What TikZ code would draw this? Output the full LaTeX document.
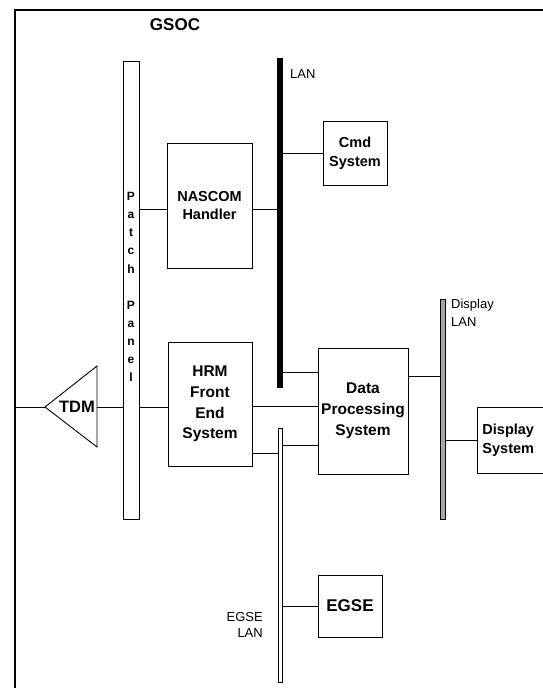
\documentclass[tikz,border=0pt]{standalone}
\usepackage{fontspec}
\setmainfont{Liberation Sans}
\usetikzlibrary{positioning}
\definecolor{lanGray}{HTML}{A6A6A6}

\begin{document}
\begin{tikzpicture}[
    x=1pt, y=-1pt,
    unit/.style={draw, line width=0.9pt, fill=white, inner sep=0pt, align=center,
      font=\bfseries\fontsize{14.5}{18.5}\selectfont},
    bigunit/.style={unit, font=\bfseries\fontsize{15.5}{20.8}\selectfont},
    lanbar/.style={draw, line width=0.9pt, inner sep=0pt, minimum width=#1},
    lanlabel/.style={inner sep=0pt, font=\fontsize{13}{17.5}\selectfont},
    link/.style={line width=0.9pt}
  ]
  \useasboundingbox (0,0) rectangle (543,688);
  \clip (0,0) rectangle (543,688);

  % GSOC frame
  \draw[line width=2.2pt] (15,688) -- (15,10) -- (543,10);
  \node[font=\bfseries\fontsize{17}{20}\selectfont] (gsoc) at (175,25) {GSOC};
  \coordinate (frameL) at (15,407);

  % patch panel
  \node[lanbar=16pt, fill=white, minimum height=458pt] (panel) at (131,290) {};
  \node[inner sep=0pt, align=center, font=\bfseries\fontsize{12}{18.1}\selectfont] (panelText) at (131,287)
    {P\\a\\t\\c\\h\\\mbox{}\\P\\a\\n\\e\\l};

  % TDM
  \draw[link, fill=white] (97,366) -- (45,407) -- (97,447) -- cycle;
  \coordinate (tdmL) at (45,407);
  \coordinate (tdmR) at (97,407);
  \node[inner sep=0pt, font=\bfseries\fontsize{16.5}{20}\selectfont] (tdm) at (77,407) {TDM};

  % LANs
  \node[lanbar=4.5pt, fill=black, minimum height=329pt] (lan) at (280,222.5) {};
  \node[lanlabel, anchor=west] (lanText) at (290,74) {LAN};
  \node[lanbar=5pt, fill=lanGray, minimum height=220pt] (displan) at (442.5,409) {};
  \node[lanlabel, anchor=west, align=left, font=\fontsize{13}{18.3}\selectfont] (displanText) at (451,312.5) {Display\\LAN};
  \node[lanbar=4pt, fill=white, minimum height=254pt] (egselan) at (280,555) {};
  \node[lanlabel, anchor=east, align=right, font=\fontsize{13}{16.7}\selectfont] (egselanText) at (263,625) {EGSE\\LAN};

  % systems
  \node[unit, minimum width=85pt, minimum height=125pt] (nascom) at (209.5,205.5) {NASCOM\\Handler};
  \node[unit, minimum width=64pt, minimum height=64pt] (cmd) at (355,153) {Cmd\\System};
  \node[bigunit, minimum width=84pt, minimum height=124pt] (hrm) at (210,404) {HRM\\Front\\End\\System};
  \node[bigunit, minimum width=90pt, minimum height=126pt] (dps) at (363,411) {Data\\Processing\\System};
  \node[unit, anchor=west, text width=70pt, align=left, inner xsep=5pt, minimum height=66pt] (display) at (477,440) {Display\\System};
  \node[unit, minimum width=64pt, minimum height=62pt, font=\bfseries\fontsize{17}{20}\selectfont] (egse) at (350,606) {EGSE};

  % connections
  \draw[link] (frameL) -- (tdmL);
  \draw[link] (tdmR) -- (panel.west |- tdmR);
  \draw[link] (panel.east |- tdmR) -- (hrm.west |- tdmR);
  \draw[link] (panel.east |- 0,209) -- (nascom.west |- 0,209);
  \draw[link] (nascom.east |- 0,209) -- (lan.east |- 0,209);
  \draw[link] (lan.east |- cmd) -- (cmd.west);
  \draw[link] ([yshift=15pt]lan.south east) -- ([yshift=15pt]lan.south -| dps.west);
  \draw[link] (hrm.east |- 0,406) -- (dps.west |- 0,406);
  \draw[link] ([yshift=13pt]hrm.south east) -- ([yshift=13pt]hrm.south -| egselan.west);
  \draw[link] ([yshift=29pt]dps.south west) -- ([yshift=29pt]dps.south -| egselan.east);
  \draw[link] (egselan.east |- egse) -- (egse.west);
  \draw[link] ([yshift=-29pt]dps.north east) -- ([yshift=-29pt]dps.north -| displan.west);
  \draw[link] (displan.east |- display) -- (display.west);
\end{tikzpicture}
\end{document}
